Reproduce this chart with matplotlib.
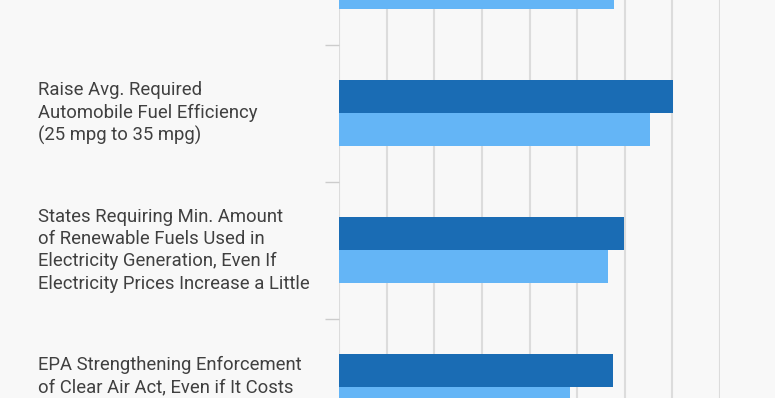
import matplotlib
matplotlib.use("Agg")
import matplotlib.pyplot as plt
import matplotlib.transforms as mtransforms
import numpy as np

# --- Data (percent support) ---
labels = [
    "",
    "Raise Avg. Required\nAutomobile Fuel Efficiency\n(25 mpg to 35 mpg)",
    "States Requiring Min. Amount\nof Renewable Fuels Used in\nElectricity Generation, Even If\nElectricity Prices Increase a Little",
    "EPA Strengthening Enforcement\nof Clear Air Act, Even if It Costs\n",
]
series_a = [63.0, 70.2, 59.8, 57.5]
series_b = [57.8, 65.2, 56.4, 48.6]

DARK = "#1a6cb4"
LIGHT = "#64b5f6"
BG = "#f8f8f8"
GRID = "#dcdcdc"

fig = plt.figure(figsize=(7.75, 3.98), dpi=100)
fig.patch.set_facecolor(BG)
ax = fig.add_axes([339 / 775, 0, (720 - 339) / 775, 1])
ax.set_facecolor(BG)

y = np.arange(len(labels))
h = 0.24
ax.barh(y - h / 2, series_a, height=h, color=DARK, zorder=3)
ax.barh(y + h / 2, series_b, height=h, color=LIGHT, zorder=3)

ax.set_xticks(np.arange(0, 81, 10))
ax.xaxis.grid(True, color=GRID, linewidth=1.5, zorder=0)
ax.tick_params(axis="x", length=0, labelbottom=False)

for s in ax.spines.values():
    s.set_visible(False)

# category separators as y ticks (set before limits, set_yticks widens them)
ax.set_yticks(np.arange(len(labels)) + 0.5)
ax.set_yticklabels([])
ax.tick_params(axis="y", length=10, width=1, color="#cccccc")

ax.set_xlim(0, 80)
ax.set_ylim(3.078, 0.173)

# category labels, left aligned near the figure edge
trans = mtransforms.blended_transform_factory(fig.transFigure, ax.transData)
for i, lab in enumerate(labels):
    ax.text(38 / 775, i, lab, transform=trans, ha="left", va="center",
            fontsize=13.3, color="#404040", family="Roboto", linespacing=1.3)

fig.savefig("out.png", dpi=100, facecolor=BG)
